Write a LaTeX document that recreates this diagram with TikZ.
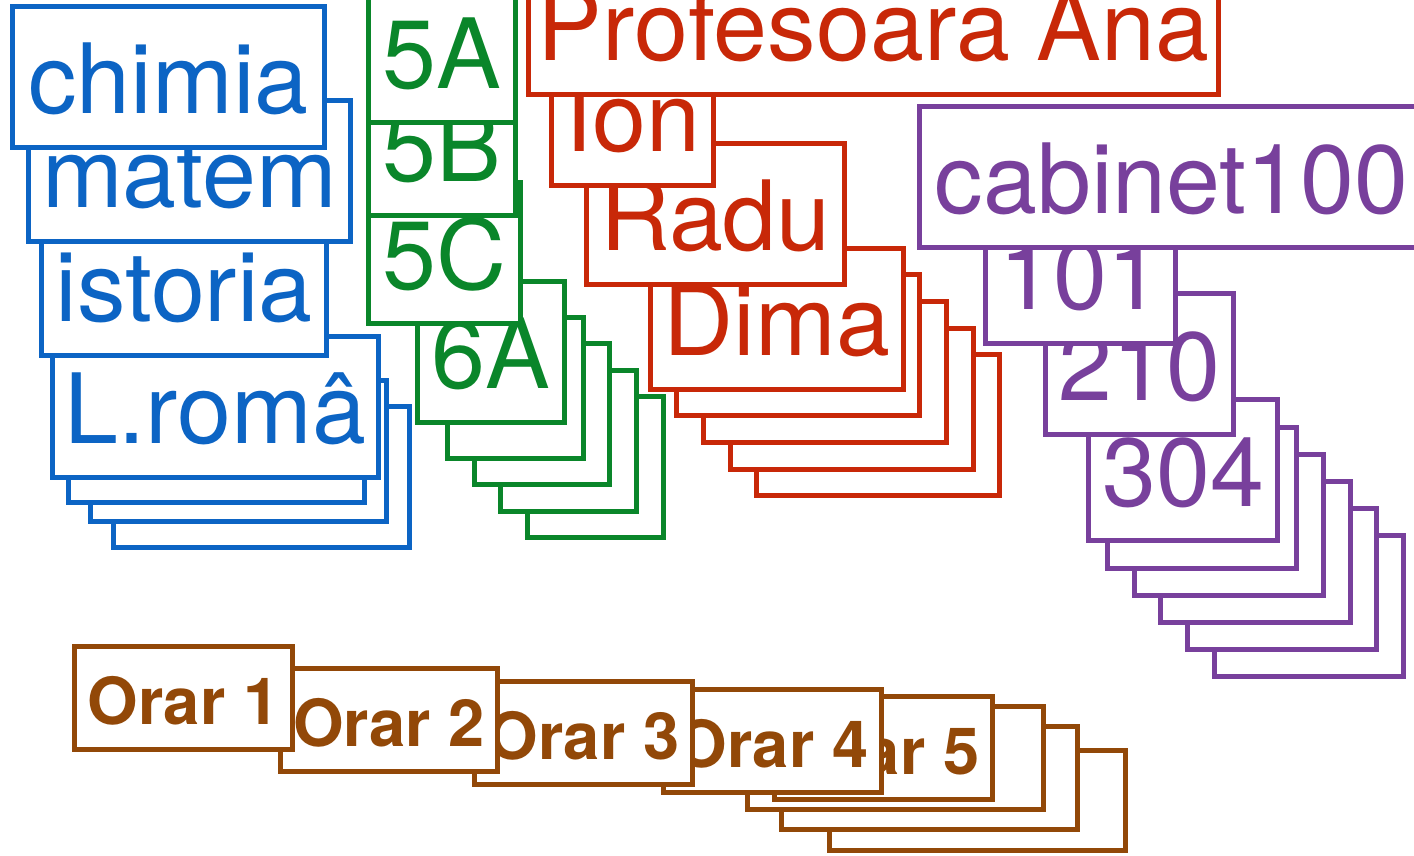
\documentclass[tikz,border=0pt]{standalone}
\usepackage{fontspec}
\setmainfont{TeX Gyre Heros}
\definecolor{cblue}{RGB}{12,100,196}
\definecolor{cgreen}{RGB}{10,134,42}
\definecolor{cred}{RGB}{200,40,8}
\definecolor{cpurple}{RGB}{120,64,156}
\definecolor{cbrown}{RGB}{146,72,8}
\begin{document}
\begin{tikzpicture}[x=1pt,y=-1pt,
  card/.style={draw,line width=5.2pt,fill=white,inner xsep=3pt,inner ysep=0pt,anchor=south west},
  big/.style={card,font=\fontsize{97pt}{100pt}\selectfont,text height=107pt,text depth=34pt},
  small/.style={card,font=\bfseries\fontsize{65pt}{68pt}\selectfont,text height=78pt,text depth=25pt},
  bluec/.style={draw=cblue,text=cblue},
  greenc/.style={draw=cgreen,text=cgreen},
  redc/.style={draw=cred,text=cred},
  purplec/.style={draw=cpurple,text=cpurple},
  brownc/.style={draw=cbrown,text=cbrown}]
\clip (0,0) rectangle (1414,856);
\begin{scope}[xshift=-1pt]
% blue group (back to front)
\node[big,bluec,minimum width=296pt] (bl3) at (112,550) {};
\node[big,bluec,minimum width=296pt] (bl2) at (89,524) {};
\node[big,bluec,minimum width=296pt] (bl1) at (67,505) {};
\node[big,bluec,minimum width=326pt] (lrom) at (51,480) {L.româ};
\node[big,bluec,minimum width=285pt] (ist) at (40,358) {istoria};
\node[big,bluec,minimum width=322pt] (mat) at (27,244) {matem};
\node[big,bluec,minimum width=312pt] (chim) at (11,150) {chimia};
% green group
\node[big,greenc,minimum width=136pt] (gl4) at (526,540) {};
\node[big,greenc,minimum width=136pt] (gl3) at (499,514) {};
\node[big,greenc,minimum width=135pt] (gl2) at (473,487) {};
\node[big,greenc,minimum width=136pt] (gl1) at (446,461) {};
\node[big,greenc,minimum width=147pt] (c6a) at (416,425) {6A};
\node[big,greenc,minimum width=152pt] (c5c) at (367,326) {5C};
\node[big,greenc,minimum width=147pt] (c5b) at (367,218) {5B};
\node[big,greenc,minimum width=147pt] (c5a) at (367,125) {5A};
% red group
\node[big,redc,minimum width=243pt] (rl4) at (755,498) {};
\node[big,redc,minimum width=243pt] (rl3) at (729,472) {};
\node[big,redc,minimum width=243pt] (rl2) at (702,445) {};
\node[big,redc,minimum width=243pt] (rl1) at (675,418) {};
\node[big,redc,minimum width=253pt] (dima) at (649,392) {Dima};
\node[big,redc,minimum width=258pt] (radu) at (585,287) {Radu};
\node[big,redc,minimum width=162pt] (ion) at (550,188) {Ion};
\node[big,redc,minimum width=690pt] (prof) at (527,97) {Profesoara Ana};
% purple group
\node[big,purplec,minimum width=189pt] (pl5) at (1213,679) {};
\node[big,purplec,minimum width=189pt] (pl4) at (1186,652) {};
\node[big,purplec,minimum width=190pt] (pl3) at (1159,625) {};
\node[big,purplec,minimum width=189pt] (pl2) at (1133,598) {};
\node[big,purplec,minimum width=189pt] (pl1) at (1106,571) {};
\node[big,purplec,minimum width=189pt] (r304) at (1087,543) {304};
\node[big,purplec,minimum width=188pt] (r210) at (1044,437) {210};
\node[big,purplec,minimum width=190pt] (r101) at (984,346) {101};
\node[big,purplec,minimum width=504pt] (cab) at (918,250) {cabinet100};
% brown group
\node[small,brownc,minimum width=296pt,text height=75pt] (ol3) at (828,853) {};
\node[small,brownc,minimum width=296pt] (ol2) at (780,832) {};
\node[small,brownc,minimum width=296pt] (ol1) at (746,812) {};
\node[small,brownc,minimum width=218pt] (o5) at (773,802) {Orar 5};
\node[small,brownc,minimum width=218pt] (o4) at (662,795) {Orar 4};
\node[small,brownc,minimum width=218pt] (o3) at (473,787) {Orar 3};
\node[small,brownc,minimum width=217pt] (o2) at (279,774) {Orar 2};
\node[small,brownc,minimum width=218pt] (o1) at (73,752) {Orar 1};
\end{scope}
\end{tikzpicture}
\end{document}
